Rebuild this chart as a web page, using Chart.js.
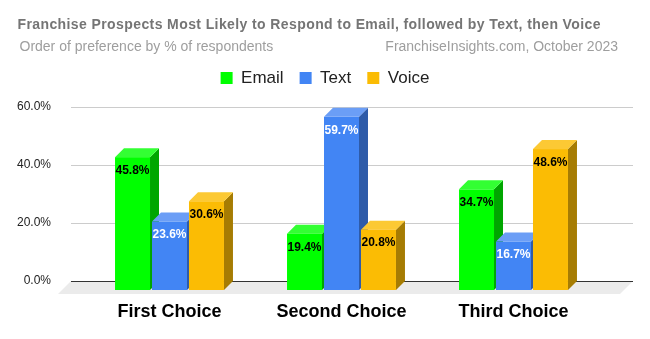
<!DOCTYPE html>
<html>
<head>
<meta charset="utf-8">
<script src="https://cdn.jsdelivr.net/npm/chart.js@4.4.1/dist/chart.umd.min.js"></script>
<style>
  html, body { margin: 0; padding: 0; background: #fff; }
  #wrap { width: 650px; height: 339px; }
</style>
</head>
<body>
<div id="wrap"><canvas id="prefChart"></canvas></div>
<script>
const categories = ["First Choice", "Second Choice", "Third Choice"];
const emailValues = [45.8, 19.4, 34.7];
const textValues = [23.6, 59.7, 16.7];
const voiceValues = [30.6, 20.8, 48.6];
const yTicks = [0, 20, 40, 60];

const FONT = '"Liberation Sans", Arial, sans-serif';
const DEPTH = 9;
const faces = [
    { front: "#00ff00", top: "#33ff33", side: "#00a600", label: "#000" },
    { front: "#4285f4", top: "#6b9ef6", side: "#2e5ba9", label: "#fff" },
    { front: "#fbbc04", top: "#fcc934", side: "#a67c03", label: "#000" },
];

// extra room under the legend, and keep the legend centred on the whole canvas
const legendRoom = {
    id: "legendRoom",
    beforeInit(chart) {
        const fit = chart.legend.fit;
        chart.legend.fit = function () {
            fit.call(this);
            this.height = 62.5;
        };
    },
    afterLayout(chart) {
        chart.legend.left = 0;
        chart.legend.right = chart.width;
        chart.legend.width = chart.width;
    },
};

// floor, back wall grid and the 3d bars
const bars3d = {
    id: "bars3d",
    beforeDatasetsDraw(chart) {
        const ctx = chart.ctx;
        const y = chart.scales.y;
        const area = chart.chartArea;
        const x0 = area.left - 12.5;
        const x1 = area.right + 33.5;
        const base = y.getPixelForValue(0) - DEPTH;

        ctx.save();
        ctx.fillStyle = "#ebebeb";
        ctx.beginPath();
        ctx.moveTo(x0, base);
        ctx.lineTo(x1, base);
        ctx.lineTo(x1 - 13, base + 13);
        ctx.lineTo(x0 - 13, base + 13);
        ctx.closePath();
        ctx.fill();

        ctx.lineWidth = 1;
        yTicks.forEach(function (v) {
            const py = Math.round(y.getPixelForValue(v) - DEPTH) + 0.5;
            ctx.strokeStyle = v === 0 ? "#333" : "#cccccc";
            ctx.beginPath();
            ctx.moveTo(x0, py);
            ctx.lineTo(x1, py);
            ctx.stroke();
        });

        ctx.font = "bold 12px " + FONT;
        ctx.textAlign = "center";
        ctx.textBaseline = "middle";
        for (let j = 0; j < categories.length; j++) {
            chart.data.datasets.forEach(function (ds, i) {
                const bar = chart.getDatasetMeta(i).data[j];
                const p = bar.getProps(["x", "y", "base", "width"], true);
                const l = p.x - p.width / 2;
                const r = p.x + p.width / 2;
                const t = p.y;
                const b = p.base;
                const c = faces[i];

                ctx.fillStyle = c.side;
                ctx.beginPath();
                ctx.moveTo(r, b);
                ctx.lineTo(r + DEPTH, b - DEPTH);
                ctx.lineTo(r + DEPTH, t - DEPTH);
                ctx.lineTo(r, t);
                ctx.closePath();
                ctx.fill();

                ctx.fillStyle = c.top;
                ctx.beginPath();
                ctx.moveTo(l, t);
                ctx.lineTo(l + DEPTH, t - DEPTH);
                ctx.lineTo(r + DEPTH, t - DEPTH);
                ctx.lineTo(r, t);
                ctx.closePath();
                ctx.fill();

                ctx.fillStyle = c.front;
                ctx.fillRect(l, t, r - l, b - t);

                ctx.fillStyle = c.label;
                ctx.fillText(ds.data[j].toFixed(1) + "%", p.x, t + 13.5);
            });
        }
        ctx.restore();
        return false;
    },
};

// title lines
const header = {
    id: "header",
    afterDraw(chart) {
        const ctx = chart.ctx;
        ctx.save();
        ctx.textBaseline = "middle";
        ctx.fillStyle = "#757575";
        ctx.font = "bold 14px " + FONT;
        ctx.textAlign = "left";
        ctx.letterSpacing = "0.4px";
        ctx.fillText("Franchise Prospects Most Likely to Respond to Email, followed by Text, then Voice", 17.5, 25);
        ctx.letterSpacing = "0px";
        ctx.fillStyle = "#9e9e9e";
        ctx.font = "14px " + FONT;
        ctx.fillText("Order of preference by % of respondents", 19.5, 47.5);
        ctx.textAlign = "right";
        ctx.fillText("FranchiseInsights.com, October 2023", 618, 47.5);
        ctx.restore();
    },
};

document.addEventListener("DOMContentLoaded", function () {
    const ctx = document.getElementById("prefChart").getContext("2d");

    new Chart(ctx, {
        type: "bar",
        data: {
            labels: categories,
            datasets: [
                { label: "Email", data: emailValues, backgroundColor: faces[0].front },
                { label: "Text", data: textValues, backgroundColor: faces[1].front },
                { label: "Voice", data: voiceValues, backgroundColor: faces[2].front },
            ],
        },
        options: {
            responsive: true,
            maintainAspectRatio: false,
            animation: false,
            categoryPercentage: 0.645,
            barPercentage: 0.946,
            layout: {
                padding: { top: 53.5, right: 50.5, bottom: 0, left: 0 },
            },
            scales: {
                x: {
                    grid: { display: false },
                    border: { display: false },
                    ticks: {
                        padding: 3,
                        color: "#000",
                        font: { family: FONT, size: 18, weight: "bold" },
                    },
                    afterFit: function (scale) {
                        scale.height = 49;
                    },
                },
                y: {
                    min: 0,
                    max: 60,
                    grid: { display: false, drawTicks: false },
                    border: { display: false },
                    afterBuildTicks: function (scale) {
                        scale.ticks = yTicks.map(function (v) { return { value: v }; });
                    },
                    ticks: {
                        padding: 32.5,
                        labelOffset: -DEPTH,
                        color: "#222",
                        font: { family: FONT, size: 12 },
                        callback: function (v) { return v.toFixed(1) + "%"; },
                    },
                    afterFit: function (scale) {
                        scale.width = 83.5;
                    },
                },
            },
            plugins: {
                legend: {
                    position: "top",
                    labels: {
                        boxWidth: 12,
                        boxHeight: 12,
                        padding: 16,
                        color: "#222",
                        font: { family: FONT, size: 17 },
                    },
                },
                tooltip: { enabled: false },
            },
        },
        plugins: [legendRoom, bars3d, header],
    });
});
</script>
</body>
</html>
